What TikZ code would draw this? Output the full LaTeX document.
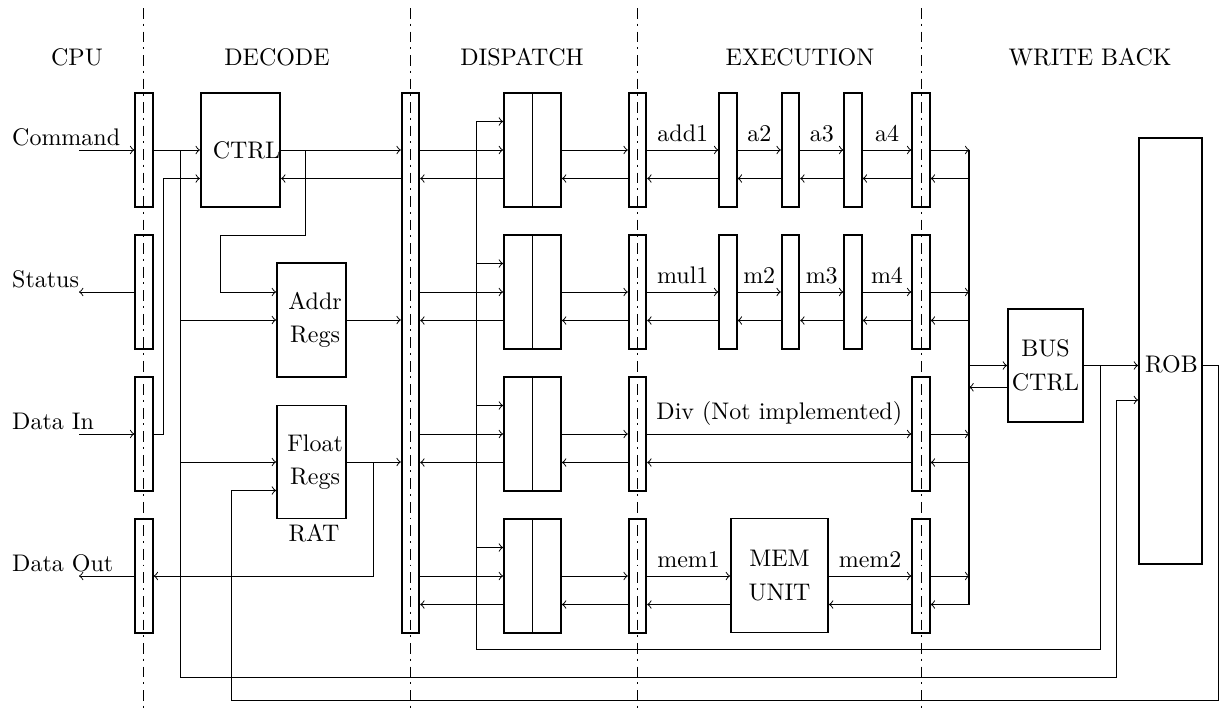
\documentclass[tikz,border=0pt]{standalone}
\usetikzlibrary{calc}
\newcommand\pxu{0.41667pt}
\tikzset{
  reg/.style={draw, thick, minimum width=17.5*\pxu, minimum height=114*\pxu, inner sep=0pt},
  half/.style={draw, thick, minimum width=28.5*\pxu, minimum height=114*\pxu, inner sep=0pt},
  box/.style={draw, thick, inner sep=0pt, align=center},
  conn/.style={->},
  phase/.style={dash pattern=on 4.5pt off 2pt on 0.8pt off 2.5pt},
  title/.style={anchor=base, inner sep=0pt},
  side/.style={anchor=base west, inner sep=0pt},
  bus/.style={thick}
}
\begin{document}
\begin{tikzpicture}[x=0.41667pt, y=-0.41667pt]
\useasboundingbox (0,0) rectangle (1219,713);

% phase separators
\draw[phase] (143.7,8) -- (143.7,713);
\draw[phase] (410.5,8) -- (410.5,713);
\draw[phase] (637.5,8) -- (637.5,713);
\draw[phase] (921,8) -- (921,713);

% titles
\node[title] (tcpu) at (77,65) {CPU};
\node[title] (tdec) at (277,65) {DECODE};
\node[title] (tdis) at (522,65) {DISPATCH};
\node[title] (texe) at (800,65) {EXECUTION};
\node[title] (twb) at (1090,65) {WRITE BACK};

% row reference coordinates
\foreach \k/\c in {1/150,2/292,3/434,4/576} {
  \coordinate (top\k) at (0,\c-28.5);
  \coordinate (mid\k) at (0,\c);
  \coordinate (bot\k) at (0,\c+28.5);
  \node[reg] (cpu\k) at (144,\c) {};
  \node[half] (dba\k) at (518.25,\c) {};
  \node[half] (dbb\k) at (546.75,\c) {};
  \node[reg] (ex\k) at (637.5,\c) {};
  \node[reg] (en\k) at (921,\c) {};
}
\coordinate (y387) at (0,387.3);
\coordinate (y400) at (0,400);
\coordinate (y490) at (0,490.5);

% pipeline stage registers
\node[reg] (s12) at (728,150) {};
\node[reg] (s13) at (790.5,150) {};
\node[reg] (s14) at (853,150) {};
\node[reg] (s22) at (728,292) {};
\node[reg] (s23) at (790.5,292) {};
\node[reg] (s24) at (853,292) {};

% boxes
\node[box, minimum width=75*\pxu, minimum height=114*\pxu] (ctrl) at (240.5,150) {\hspace*{5pt}CTRL};
\node[box, minimum width=69*\pxu, minimum height=114*\pxu] (addr) at (311.5,320) {\hspace*{3pt}Addr\\[2pt]\hspace*{3pt}Regs};
\node[box, minimum width=69*\pxu, minimum height=113*\pxu] (float) at (311.5,462) {\hspace*{3pt}Float\\[2pt]\hspace*{3pt}Regs};
\node (rat) at (314,533) {RAT};
\node[draw, thick, inner sep=0pt, minimum width=17.5*\pxu, minimum height=540*\pxu] (dsp) at (410.5,363) {};
\node[box, minimum width=97*\pxu, minimum height=114*\pxu] (mem) at (779.5,575.5) {MEM\\[2pt]UNIT};
\node[box, minimum width=75*\pxu, minimum height=113*\pxu] (busctrl) at (1045.5,365.5) {BUS\\[2pt]CTRL};
\node[draw, thick, inner sep=0pt, minimum width=63*\pxu, minimum height=426*\pxu] (rob) at (1170.5,351) {};
\node (robt) at (1171.5,364) {ROB};

% CPU side labels and ports
\node[side] (lcmd) at (11.7,145) {Command};
\node[side] (lst) at (11.7,287) {Status};
\node[side] (ldi) at (11.7,429) {Data In};
\node[side] (ldo) at (11.7,571) {Data Out};
\coordinate (cmdin) at (79,150);
\coordinate (stout) at (79,292);
\coordinate (diin) at (79,434);
\coordinate (doout) at (79,576);
\draw[conn] (cmdin) -- (cpu1.west);
\draw[conn] (cpu2.west) -- (stout);
\draw[conn] (diin) -- (cpu3.west);
\draw[conn] (cpu4.west) -- (doout);

% command distribution
\coordinate (jc) at (180.7,150);
\draw[conn] (cpu1.east) -- (ctrl.west);
\draw[conn] (jc) -- (180.7,677.7) -- (1116.7,677.7) -- (1116.7,400) -- (rob.west |- y400);
\draw[conn] (jc |- addr) -- (addr.west);
\draw[conn] (jc |- float) -- (float.west);

% data in to ctrl
\coordinate (jd) at (163.3,178.5);
\draw[conn] (cpu3.east) -| (jd) -- (ctrl.west |- bot1);

% ctrl / regs to dispatch
\draw[conn] (ctrl.east) -- (dsp.west |- mid1);
\coordinate (jx) at (305.7,150);
\draw[conn] (jx) -- (305.7,235) -- (220,235) |- (addr.west |- mid2);
\draw[conn] (dsp.west |- bot1) -- (ctrl.east |- bot1);
\draw[conn] (addr.east) -- (dsp.west |- addr);
\draw[conn] (float.east) -- (dsp.west |- float);
\coordinate (jf) at (373.3,462);
\draw[conn] (jf) |- (cpu4.east);

% dispatch and common bus
\coordinate (bus) at (969.3,150);
\foreach \k in {1,...,4} {
  \draw[conn] (dsp.east |- mid\k) -- (dba\k.west);
  \draw[conn] (dba\k.west |- bot\k) -- (dsp.east |- bot\k);
  \draw[conn] (dbb\k.east) -- (ex\k.west);
  \draw[conn] (ex\k.west |- bot\k) -- (dbb\k.east |- bot\k);
  \draw[conn] (en\k.east) -- (bus |- mid\k);
  \draw[conn] (bus |- bot\k) -- (en\k.east |- bot\k);
}
\draw[bus] (bus) -- (bus |- bot4);

% bus ctrl feedback to dispatch
\coordinate (jr) at (1100,365.5);
\coordinate (jb) at (476,121.5);
\draw[conn] (busctrl.east) -- (rob.west |- busctrl);
\draw[conn] (jr) -- (1100,649.3) -- (476,649.3) -- (jb) -- (dba1.west |- top1);
\draw[conn] (jb |- top2) -- (dba2.west |- top2);
\draw[conn] (jb |- top3) -- (dba3.west |- top3);
\draw[conn] (jb |- top4) -- (dba4.west |- top4);

% bus to bus ctrl
\draw[conn] (bus |- busctrl) -- (busctrl.west);
\draw[conn] (busctrl.west |- y387) -- (bus |- y387);

% ROB back to float regs
\draw[conn] (rob.east |- busctrl) -- (1218,365.5) -- (1218,700) -- (231.7,700) |- (float.west |- y490);

% execution row 1
\draw[conn] (ex1.east) -- node[above] {add1} (s12.west);
\draw[conn] (s12.east) -- node[above] {a2} (s13.west);
\draw[conn] (s13.east) -- node[above] {a3} (s14.west);
\draw[conn] (s14.east) -- node[above] {a4} (en1.west);
\draw[conn] (s12.west |- bot1) -- (ex1.east |- bot1);
\draw[conn] (s13.west |- bot1) -- (s12.east |- bot1);
\draw[conn] (s14.west |- bot1) -- (s13.east |- bot1);
\draw[conn] (en1.west |- bot1) -- (s14.east |- bot1);

% execution row 2
\draw[conn] (ex2.east) -- node[above] {mul1} (s22.west);
\draw[conn] (s22.east) -- node[above] {m2} (s23.west);
\draw[conn] (s23.east) -- node[above] {m3} (s24.west);
\draw[conn] (s24.east) -- node[above] {m4} (en2.west);
\draw[conn] (s22.west |- bot2) -- (ex2.east |- bot2);
\draw[conn] (s23.west |- bot2) -- (s22.east |- bot2);
\draw[conn] (s24.west |- bot2) -- (s23.east |- bot2);
\draw[conn] (en2.west |- bot2) -- (s24.east |- bot2);

% execution row 3
\draw[conn] (ex3.east) -- node[above] {Div (Not implemented)} (en3.west);
\draw[conn] (en3.west |- bot3) -- (ex3.east |- bot3);

% execution row 4
\draw[conn] (ex4.east) -- node[above] {mem1} (mem.west |- mid4);
\draw[conn] (mem.west |- bot4) -- (ex4.east |- bot4);
\draw[conn] (mem.east |- mid4) -- node[above] {mem2} (en4.west);
\draw[conn] (en4.west |- bot4) -- (mem.east |- bot4);
\end{tikzpicture}
\end{document}
